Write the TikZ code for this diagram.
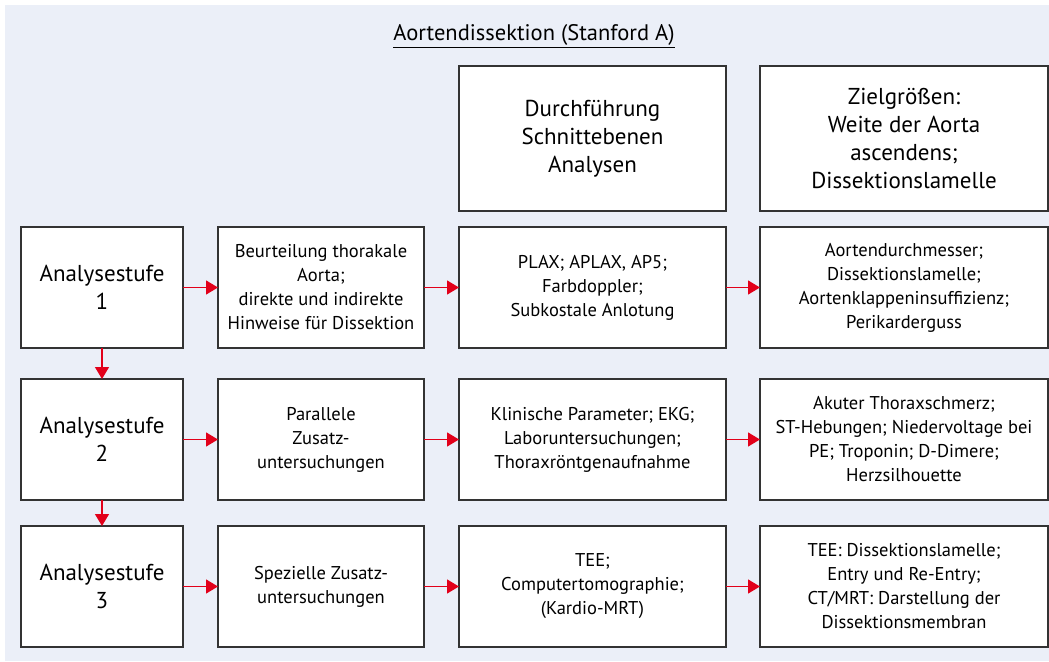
\documentclass[tikz,border=0pt]{standalone}
\usepackage{fontspec}
\setmainfont{PT Sans}
\usetikzlibrary{
	arrows.meta,
	positioning,
}
\definecolor{BgBlue}{HTML}{EBEFF8}
\definecolor{ArrowRed}{HTML}{E2001A}
\definecolor{FrameGray}{HTML}{333333}

\begin{document}
\begin{tikzpicture} [
			x=1pt,y=-1pt,
			every node/.style={align=center,rectangle,inner sep=2pt},
			box/.style={draw=FrameGray,fill=white,line width=1.2pt,outer sep=0pt,minimum height=121pt,font=\fontsize{18.5}{24}\selectfont},
			stage/.style={box,minimum width=162pt,font=\fontsize{23}{28}\selectfont},
			check/.style={box,minimum width=206pt},
			method/.style={box,minimum width=267pt},
			target/.style={box,minimum width=288pt},
			flow/.style={-{Triangle[length=12pt,width=14pt]},draw=ArrowRed,line width=1.3pt}
		]
		\useasboundingbox (0,0) rectangle (1049,661);
		\fill[BgBlue] (5,5) rectangle (1049,661);

		\node [font=\fontsize{22.5}{26}\selectfont] (title) at (534,36) {\underline{Aortendissektion (Stanford A)}};

		% Analysestufe 1
		\node [stage] (stage1) at (102,287.5) {Analysestufe \\ 1};
		\node [check, right=35pt of stage1] (check1) {
			Beurteilung thorakale \\
			Aorta; \\
			direkte und indirekte \\
			Hinweise für Dissektion
		};
		\node [method, right=35pt of check1] (method1) {
			PLAX; APLAX, AP5; \\
			Farbdoppler; \\
			Subkostale Anlotung
		};
		\node [target, right=34pt of method1] (target1) {
			Aortendurchmesser; \\
			Dissektionslamelle; \\
			Aortenklappeninsuffizienz; \\
			Perikarderguss
		};

		% Kopfzeile
		\node [method, minimum height=145pt, above=16pt of method1, font=\fontsize{23}{28}\selectfont] (head3) {
			Durchführung \\
			Schnittebenen \\
			Analysen
		};
		\node [target, minimum height=145pt, above=16pt of target1, font=\fontsize{23}{28}\selectfont] (head4) {
			Zielgrößen: \\
			Weite der Aorta \\
			ascendens; \\
			Dissektionslamelle
		};

		% Analysestufe 2
		\node [stage, below=31pt of stage1] (stage2) {Analysestufe \\ 2};
		\node [check, right=35pt of stage2] (check2) {
			Parallele \\
			Zusatz- \\
			untersuchungen
		};
		\node [method, right=35pt of check2] (method2) {
			Klinische Parameter; EKG; \\
			Laboruntersuchungen; \\
			Thoraxröntgenaufnahme
		};
		\node [target, right=34pt of method2] (target2) {
			Akuter Thoraxschmerz; \\
			ST-Hebungen; Niedervoltage bei \\
			PE; Troponin; D-Dimere; \\
			Herzsilhouette
		};

		% Analysestufe 3
		\node [stage, below=26pt of stage2] (stage3) {Analysestufe \\ 3};
		\node [check, right=35pt of stage3] (check3) {
			Spezielle Zusatz- \\
			untersuchungen
		};
		\node [method, right=35pt of check3] (method3) {
			TEE; \\
			Computertomographie; \\
			(Kardio-MRT)
		};
		\node [target, right=34pt of method3] (target3) {
			TEE: Dissektionslamelle; \\
			Entry und Re-Entry; \\
			CT/MRT: Darstellung der \\
			Dissektionsmembran
		};

		\draw[flow] (stage1) -- (check1);
		\draw[flow] (check1) -- (method1);
		\draw[flow] (method1) -- (target1);
		\draw[flow] (stage2) -- (check2);
		\draw[flow] (check2) -- (method2);
		\draw[flow] (method2) -- (target2);
		\draw[flow] (stage3) -- (check3);
		\draw[flow] (check3) -- (method3);
		\draw[flow] (method3) -- (target3);
		\draw[flow] (stage1) -- (stage2);
		\draw[flow] (stage2) -- (stage3);
	\end{tikzpicture}
\end{document}
